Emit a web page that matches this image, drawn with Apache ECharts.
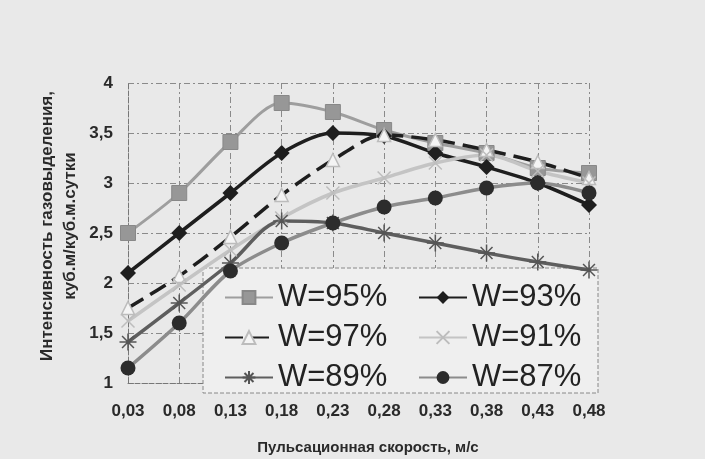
<!DOCTYPE html>
<html>
<head>
<meta charset="utf-8">
<script src="https://cdn.jsdelivr.net/npm/echarts@6/dist/echarts.min.js"></script>
<style>
html,body{margin:0;padding:0;background:#e9e9e9;}
#c{width:705px;height:459px;}
</style>
</head>
<body>
<div id="c"></div>
<script>
const categories = ['0,03','0,08','0,13','0,18','0,23','0,28','0,33','0,38','0,43','0,48'];
const w95 = [2.5, 2.9, 3.41, 3.8, 3.71, 3.53, 3.4, 3.3, 3.15, 3.1];
const w93 = [2.1, 2.5, 2.9, 3.3, 3.5, 3.47, 3.3, 3.16, 3.0, 2.78];
const w97 = [1.75, 2.07, 2.46, 2.88, 3.23, 3.48, 3.43, 3.33, 3.21, 3.05];
const w91 = [1.62, 1.98, 2.33, 2.65, 2.9, 3.05, 3.2, 3.28, 3.12, 3.0];
const w89 = [1.41, 1.8, 2.2, 2.62, 2.6, 2.5, 2.4, 2.3, 2.21, 2.13];
const w87 = [1.15, 1.6, 2.12, 2.4, 2.6, 2.76, 2.85, 2.95, 3.0, 2.9];
const seriesNames = ['W=95%','W=93%','W=97%','W=91%','W=89%','W=87%'];
const yAxisTitle = ['Интенсивность газовыделения,', 'куб.м/куб.м.сутки'];
const xAxisTitle = 'Пульсационная скорость, м/с';

const FONT = '"Liberation Sans", Arial, sans-serif';
const xPath = 'path://M0,0 L10,10 M10,0 L0,10';
const starPath = 'path://M5,0 L5,10 M0,5 L10,5 M1.5,1.5 L8.5,8.5 M8.5,1.5 L1.5,8.5';

const chart = echarts.init(document.getElementById('c'));
chart.setOption({
  backgroundColor: '#e9e9e9',
  animation: false,
  textStyle: {fontFamily: FONT},
  grid: {left: 128, right: 116, top: 83, bottom: 76},
  xAxis: {
    type: 'category', data: categories, boundaryGap: false,
    axisLine: {lineStyle: {color: '#777', type: [5, 2], width: 1}},
    axisTick: {show: false},
    axisLabel: {color: '#2a2a2a', fontWeight: 'bold', fontSize: 17, margin: 20, fontFamily: FONT},
    splitLine: {show: true, lineStyle: {color: '#8a8a8a', type: [6, 3, 2, 3], width: 1}}
  },
  yAxis: {
    type: 'value', min: 1, max: 4, interval: 0.5,
    axisLine: {show: true, lineStyle: {color: '#777', type: [5, 2], width: 1}},
    axisTick: {show: false},
    axisLabel: {color: '#2a2a2a', fontWeight: 'bold', fontSize: 17, margin: 15, fontFamily: FONT,
      formatter: v => String(v).replace('.', ',')},
    splitLine: {show: true, lineStyle: {color: '#8a8a8a', type: [6, 3, 2, 3], width: 1}}
  },
  legend: [
    {data: [seriesNames[0], seriesNames[2], seriesNames[4]], orient: 'vertical', left: 219, top: 277,
     itemWidth: 48, itemHeight: 16, itemGap: 9,
     textStyle: {fontSize: 31, color: '#222', fontFamily: FONT}},
    {data: [seriesNames[1], seriesNames[3], seriesNames[5]], orient: 'vertical', left: 413, top: 277,
     itemWidth: 48, itemHeight: 16, itemGap: 9,
     textStyle: {fontSize: 31, color: '#222', fontFamily: FONT}}
  ],
  graphic: [
    {type: 'rect', z: 3, shape: {x: 203, y: 268, width: 395, height: 125},
     style: {fill: '#efefef', stroke: '#888', lineWidth: 1, lineDash: [4, 2]}},
    {type: 'text', z: 5, x: 47, y: 226, rotation: Math.PI / 2,
     style: {text: yAxisTitle[0], fontSize: 17, fontWeight: 'bold', fill: '#2a2a2a', fontFamily: FONT,
       textAlign: 'center', textVerticalAlign: 'middle'}},
    {type: 'text', z: 5, x: 70, y: 226, rotation: Math.PI / 2,
     style: {text: yAxisTitle[1], fontSize: 17, fontWeight: 'bold', fill: '#2a2a2a', fontFamily: FONT,
       textAlign: 'center', textVerticalAlign: 'middle'}},
    {type: 'text', z: 5, x: 368, y: 448,
     style: {text: xAxisTitle, fontSize: 15, fontWeight: 'bold', fill: '#2a2a2a', fontFamily: FONT,
       textAlign: 'center', textVerticalAlign: 'middle'}}
  ],
  series: [
    {name: seriesNames[0], type: 'line', data: w95, smooth: 0.3, symbol: 'rect', symbolSize: 15,
     lineStyle: {color: '#9e9e9e', width: 3}, itemStyle: {color: '#979797', borderColor: '#888', borderWidth: 1}},
    {name: seriesNames[1], type: 'line', data: w93, smooth: 0.3, symbol: 'diamond', symbolSize: 16,
     lineStyle: {color: '#1e1e1e', width: 3.5}, itemStyle: {color: '#1e1e1e'}},
    {name: seriesNames[2], type: 'line', data: w97, smooth: 0.3, symbol: 'triangle', symbolSize: 13,
     lineStyle: {color: '#1e1e1e', width: 3.5, type: [18, 8]},
     itemStyle: {color: '#f4f4f4', borderColor: '#bcbcbc', borderWidth: 1.5}},
    {name: seriesNames[3], type: 'line', data: w91, smooth: 0.3, symbol: xPath, symbolSize: 13,
     lineStyle: {color: '#c4c4c4', width: 3.5},
     itemStyle: {color: '#bdbdbd', borderColor: '#bdbdbd', borderWidth: 1.5}},
    {name: seriesNames[4], type: 'line', data: w89, smooth: 0.3, symbol: starPath, symbolSize: 17,
     lineStyle: {color: '#5e5e5e', width: 3.5},
     itemStyle: {color: '#555', borderColor: '#555', borderWidth: 1.5}},
    {name: seriesNames[5], type: 'line', data: w87, smooth: 0.3, symbol: 'circle', symbolSize: 15,
     lineStyle: {color: '#8c8c8c', width: 3.5}, itemStyle: {color: '#2c2c2c'}}
  ]
});
</script>
</body>
</html>
